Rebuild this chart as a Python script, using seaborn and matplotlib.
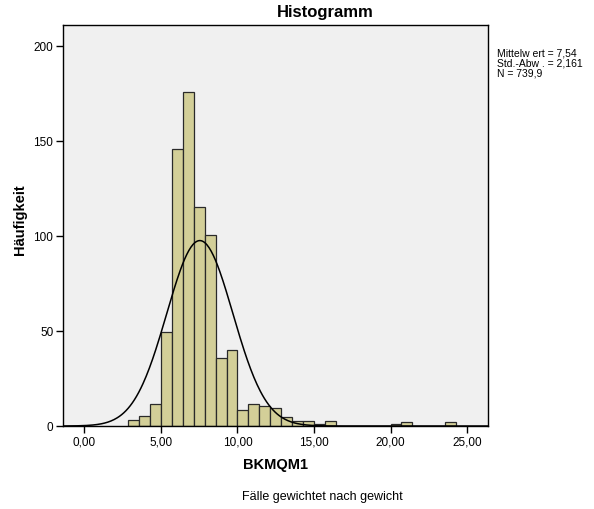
import numpy as np
import pandas as pd
import matplotlib
matplotlib.use("Agg")
import matplotlib.pyplot as plt
import seaborn as sns

# Data (bin width 5/7, bins starting at 20/7)
bin_width = 5 / 7
bin_start = 20 / 7
counts = [3, 5.5, 11.4, 49.4, 145.5, 176, 115, 100.4, 36, 40,
          8.3, 11.6, 10.4, 9.3, 4.6, 2.8, 2.8, 1.0, 2.6, 0, 0,
          0, 0, 0, 1.0, 2.0, 0, 0, 0, 2.0]
mean_val = 7.54
sd_val = 2.161
n_val = 739.9
x_ticks = [0, 5, 10, 15, 20, 25]
x_tick_labels = ["0,00", "5,00", "10,00", "15,00", "20,00", "25,00"]
y_ticks = [0, 50, 100, 150, 200]

edges = [float(v) for v in bin_start + bin_width * np.arange(len(counts) + 1)]
centers = [(edges[i] + edges[i + 1]) / 2 for i in range(len(counts))]
df = pd.DataFrame({"x": centers, "w": counts})

sns.set_style("white")
plt.rcParams["font.family"] = ["Liberation Sans", "DejaVu Sans"]

fig = plt.figure(figsize=(5.94, 5.10), dpi=100)
ax = fig.add_axes([63 / 594, 1 - 427 / 510, (488 - 63) / 594, (427 - 26) / 510])
ax.set_facecolor("#f0f0f0")

sns.histplot(data=df, x="x", weights="w", bins=edges, ax=ax,
             color="#d3cf98", edgecolor="#2a2a2a", linewidth=0.9, alpha=1)

xs = np.linspace(-1.4, 26.4, 400)
ys = n_val * bin_width * np.exp(-0.5 * ((xs - mean_val) / sd_val) ** 2) / (sd_val * np.sqrt(2 * np.pi))
sns.lineplot(x=xs, y=ys, ax=ax, color="black", linewidth=1.1)

ax.set_xlim(-1.4, 26.37)
ax.set_ylim(0, 211)
ax.set_xticks(x_ticks)
ax.set_xticklabels(x_tick_labels)
ax.set_yticks(y_ticks)
ax.tick_params(axis="both", direction="out", length=5, width=1, color="black",
               labelsize=8.5, labelcolor="black", bottom=True, left=True, pad=2)
for s in ax.spines.values():
    s.set_color("black")
    s.set_linewidth(1)

ax.set_xlabel("")
ax.set_ylabel("")
fig.text(20 / 594, 1 - 220 / 510, "Häufigkeit", rotation=90, ha="center", va="center",
         fontsize=10.5, fontweight="bold", color="black")
fig.text(275 / 594, 1 - 465 / 510, "BKMQM1", ha="center", va="center",
         fontsize=10.5, fontweight="bold", color="black")
fig.text(322 / 594, 1 - 497 / 510, "Fälle gewichtet nach gewicht", ha="center", va="center",
         fontsize=9, color="black")
fig.text(325 / 594, 1 - 13 / 510, "Histogramm", ha="center", va="center",
         fontsize=12, fontweight="bold", color="black")
fig.text(497 / 594, 1 - 48 / 510, "Mittelw ert = 7,54\nStd.-Abw . = 2,161\nN = 739,9",
         ha="left", va="top", fontsize=7.5, linespacing=1.0, color="black")

fig.savefig("out.png", dpi=100)
